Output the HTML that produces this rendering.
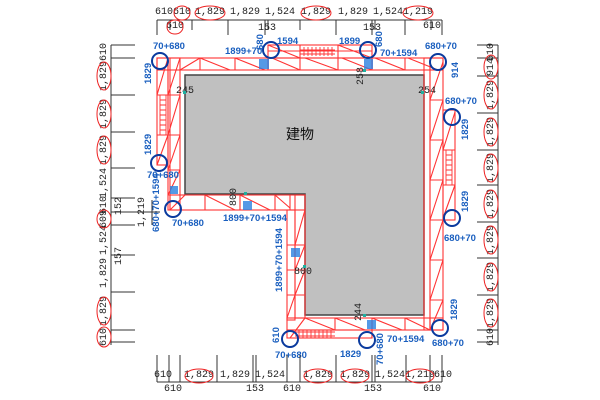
<!DOCTYPE html>
<html><head><meta charset="utf-8"><style>
html,body{margin:0;padding:0;background:#fff;}
svg{display:block;}
.d{font-family:"Liberation Mono","Noto Sans CJK JP",monospace;font-size:10px;fill:#222;}
.b{font-family:"Liberation Sans",sans-serif;font-size:9.5px;font-weight:bold;fill:#1a5fbf;}
.r{fill:none;stroke:#ff3333;stroke-width:1.1;}
.rc{fill:none;stroke:#ff3333;stroke-width:0.9;}
.bc{fill:none;stroke:#0a3a9e;stroke-width:2;}
.k{stroke:#333;stroke-width:1;}
</style></head><body>
<svg width="600" height="400" viewBox="0 0 600 400" xmlns="http://www.w3.org/2000/svg">
<polygon points="185,75 424,75 424,315 305,315 305,194 185,194" fill="#c0c0c0" stroke="#444" stroke-width="1.5"/>
<text x="300" y="139" font-family="'Liberation Sans','Noto Sans CJK JP',sans-serif" font-size="14" text-anchor="middle" fill="#111">建物</text>

<g class="r">
<rect x="157" y="58" width="286" height="12"/>
<line x1="180" y1="70" x2="430" y2="70"/>
<rect x="268" y="45" width="104" height="13"/>
<line x1="268" y1="51" x2="372" y2="51"/>
<path d="M200 58 L230 70 M235 58 L265 70 M268 45 L300 58 M305 58 L338 70 M338 45 L372 58 M342 58 L372 70 M375 58 L405 70 M408 58 L438 70 M180 70 L200 58 M272 58 L300 70"/>
<path d="M200 58 V70 M235 58 V70 M268 58 V70 M300 45 V70 M338 45 V70 M372 58 V70 M405 58 V70"/>
<rect x="157" y="58" width="11" height="107"/>
<rect x="168" y="58" width="12" height="152"/>
<line x1="170" y1="58" x2="170" y2="210"/>
<path d="M157 95 H180 M157 135 H180 M168 170 H180 M168 195 H180"/>
<path d="M157 95 L168 58 M157 165 L168 135 M168 95 L180 58 M168 135 L180 95 M168 170 L180 135 M168 195 L180 170"/>
<rect x="170" y="195" width="135" height="15"/>
<path d="M205 195 V210 M240 195 V210 M275 195 V210 M290 195 V210"/>
<path d="M205 195 L235 210 M240 195 L270 210 M275 195 L290 208 M170 210 L185 195"/>
<rect x="287" y="210" width="8" height="110"/>
<rect x="295" y="195" width="10" height="123"/>
<path d="M287 245 H305 M287 270 H305 M287 295 H305"/>
<path d="M295 245 L305 210 M295 270 L305 245 M295 295 L305 270 M287 318 L295 295"/>
<rect x="287" y="318" width="156" height="12"/>
<rect x="287" y="330" width="85" height="8"/>
<path d="M335 318 V330 M372 318 V338 M405 318 V330 M430 318 V330"/>
<path d="M305 318 L335 330 M335 318 L365 330 M372 318 L402 330 M405 318 L430 330 M290 338 L305 318"/>
<rect x="424" y="58" width="6" height="272"/>
<rect x="430" y="58" width="13" height="272"/>
<rect x="443" y="110" width="12" height="110"/>
<path d="M430 100 H443 M430 140 H443 M430 180 H443 M430 220 H443 M430 260 H443 M430 300 H443 M443 150 H455 M443 185 H455"/>
<path d="M430 100 L443 62 M430 140 L443 100 M430 180 L443 140 M430 220 L443 180 M430 260 L443 220 M430 300 L443 260 M430 330 L443 300 M443 150 L455 112 M443 218 L455 185"/>
</g>
<g class="rc">
<path d="M300 50 H335 M300 54 H335 M304 47 V56 M308 47 V56 M312 47 V56 M316 47 V56 M320 47 V56 M324 47 V56 M328 47 V56 M332 47 V56"/>
<path d="M160 95 V135 M166 95 V135 M160 100 H166 M160 105 H166 M160 110 H166 M160 115 H166 M160 120 H166 M160 125 H166 M160 130 H166"/>
<path d="M446 150 V185 M452 150 V185 M446 155 H452 M446 160 H452 M446 165 H452 M446 170 H452 M446 175 H452 M446 180 H452"/>
<path d="M295 332 H335 M295 336 H335 M299 330 V338 M303 330 V338 M307 330 V338 M311 330 V338 M315 330 V338 M319 330 V338 M323 330 V338 M327 330 V338 M331 330 V338"/>
</g>
<g fill="#2b7fe0">
<rect x="259" y="59" width="10" height="10" opacity="0.8"/>
<rect x="364" y="59" width="9" height="10" opacity="0.8"/>
<rect x="170" y="186" width="8" height="8" opacity="0.8"/>
<rect x="243" y="201" width="9" height="9" opacity="0.8"/>
<rect x="291" y="248" width="9" height="9" opacity="0.8"/>
<rect x="367" y="320" width="9" height="9" opacity="0.8"/>
</g>
<g class="bc">
<circle cx="160" cy="61" r="8"/><circle cx="271" cy="50" r="8"/><circle cx="368" cy="50" r="8"/><circle cx="438" cy="62" r="8"/>
<circle cx="452" cy="117" r="8"/><circle cx="452" cy="218" r="8"/><circle cx="440" cy="328" r="8"/>
<circle cx="159" cy="163" r="8"/><circle cx="173" cy="209" r="8"/>
<circle cx="290" cy="339" r="8"/><circle cx="367" cy="340" r="8"/>
</g>
<g class="b">
<text x="153" y="49">70+680</text>
<text x="277" y="44">1594</text>
<text x="225" y="54">1899+70</text>
<text x="339" y="44">1899</text>
<text x="380" y="56">70+1594</text>
<text x="425" y="49">680+70</text>
<text x="445" y="104">680+70</text>
<text x="444" y="241">680+70</text>
<text x="432" y="346">680+70</text>
<text x="147" y="178">70+680</text>
<text x="172" y="226">70+680</text>
<text x="223" y="221">1899+70+1594</text>
<text x="275" y="358">70+680</text>
<text x="340" y="357">1829</text>
<text x="387" y="342">70+1594</text>
<text transform="translate(151,84) rotate(-90)">1829</text>
<text transform="translate(151,155) rotate(-90)">1829</text>
<text transform="translate(159,232) rotate(-90)">680+70+1594</text>
<text transform="translate(263,50) rotate(-90)">680</text>
<text transform="translate(382,47) rotate(-90)">680</text>
<text transform="translate(458,78) rotate(-90)">914</text>
<text transform="translate(468,140) rotate(-90)">1829</text>
<text transform="translate(468,212) rotate(-90)">1829</text>
<text transform="translate(457,320) rotate(-90)">1829</text>
<text transform="translate(279,343) rotate(-90)">610</text>
<text transform="translate(383,365) rotate(-90)">70+680</text>
<text transform="translate(282,292) rotate(-90)">1899+70+1594</text>
</g>
<g class="d" font-size="9">
<text x="176" y="93">245</text>
<text x="418" y="93">254</text>
<text transform="translate(363,85) rotate(-90)">258</text>
<text transform="translate(236,206) rotate(-90)">800</text>
<text x="294" y="274">800</text>
<text transform="translate(361,321) rotate(-90)">244</text>
</g>
<g class="k">
<line x1="157" y1="20" x2="442" y2="20"/>
<path d="M157 20 V35 M170 20 V30 M192 20 V30 M228 20 V35 M265 20 V35 M268 20 V30 M300 20 V30 M336 20 V35 M372 20 V35 M375 20 V30 M405 20 V35 M431 20 V30 M442 20 V35"/>
<line x1="157" y1="355" x2="157" y2="382"/>
<line x1="157" y1="382" x2="442" y2="382"/>
<path d="M169 355 V382 M180 355 V382 M217 355 V382 M253 355 V382 M256 355 V382 M287 355 V382 M300 355 V382 M336 355 V382 M372 355 V382 M375 355 V382 M406 355 V382 M430 355 V382 M442 355 V382"/>
<line x1="111" y1="45" x2="111" y2="345"/>
<path d="M111 45 H135 M111 58 H135 M111 95 H135 M111 132 H135 M111 168 H135 M111 198 H135 M111 212 H160 M111 225 H135 M111 255 H135 M111 292 H135 M111 330 H135 M111 342 H135 M152 200 V225"/>
<line x1="498" y1="45" x2="498" y2="345"/>
<path d="M477 45 H498 M477 58 H498 M477 76 H498 M477 113 H498 M477 150 H498 M477 185 H498 M477 222 H498 M477 258 H498 M477 295 H498 M477 330 H498 M477 342 H498"/>
</g>
<g class="d" text-anchor="middle">
<text x="164" y="14">610</text><text x="182" y="14">610</text><text x="210" y="14">1,829</text><text x="245" y="14">1,829</text><text x="280" y="14">1,524</text><text x="316" y="14">1,829</text><text x="353" y="14">1,829</text><text x="388" y="14">1,524</text><text x="418" y="14">1,219</text>
<text x="175" y="28">610</text><text x="267" y="30">153</text><text x="372" y="30">153</text><text x="432" y="28">610</text>
<text x="163" y="377">610</text><text x="199" y="377">1,829</text><text x="235" y="377">1,829</text><text x="270" y="377">1,524</text><text x="318" y="377">1,829</text><text x="355" y="377">1,829</text><text x="390" y="377">1,524</text><text x="420" y="377">1,219</text><text x="443" y="377">610</text>
<text x="173" y="391">610</text><text x="255" y="391">153</text><text x="292" y="391">610</text><text x="373" y="391">153</text><text x="432" y="391">610</text>
</g>
<g class="d" text-anchor="middle">
<text transform="translate(106,52) rotate(-90)">610</text>
<text transform="translate(106,76) rotate(-90)">1,829</text>
<text transform="translate(106,114) rotate(-90)">1,829</text>
<text transform="translate(106,150) rotate(-90)">1,829</text>
<text transform="translate(106,183) rotate(-90)">1,524</text>
<text transform="translate(106,205) rotate(-90)">610</text>
<text transform="translate(106,219) rotate(-90)">609</text>
<text transform="translate(121,206) rotate(-90)">152</text>
<text transform="translate(144,212) rotate(-90)">1,219</text>
<text transform="translate(106,240) rotate(-90)">1,524</text>
<text transform="translate(121,256) rotate(-90)">157</text>
<text transform="translate(106,273) rotate(-90)">1,829</text>
<text transform="translate(106,311) rotate(-90)">1,829</text>
<text transform="translate(106,337) rotate(-90)">610</text>
<text transform="translate(493,52) rotate(-90)">610</text>
<text transform="translate(493,67) rotate(-90)">914</text>
<text transform="translate(493,95) rotate(-90)">1,829</text>
<text transform="translate(493,132) rotate(-90)">1,829</text>
<text transform="translate(493,168) rotate(-90)">1,829</text>
<text transform="translate(493,204) rotate(-90)">1,829</text>
<text transform="translate(493,240) rotate(-90)">1,829</text>
<text transform="translate(493,277) rotate(-90)">1,829</text>
<text transform="translate(493,313) rotate(-90)">1,829</text>
<text transform="translate(493,337) rotate(-90)">610</text>
</g>
<g fill="none" stroke="#ee2222" stroke-width="1">
<ellipse cx="182" cy="13" rx="8" ry="7"/><ellipse cx="210" cy="13" rx="15" ry="7"/><ellipse cx="316" cy="13" rx="15" ry="7"/><ellipse cx="418" cy="13" rx="15" ry="7"/><ellipse cx="175" cy="27" rx="8" ry="7"/>
<ellipse cx="199" cy="376" rx="14" ry="7"/><ellipse cx="318" cy="376" rx="14" ry="7"/><ellipse cx="355" cy="376" rx="14" ry="7"/><ellipse cx="420" cy="376" rx="14" ry="7"/>
<ellipse cx="104" cy="76" rx="7" ry="14"/><ellipse cx="104" cy="114" rx="7" ry="14"/><ellipse cx="104" cy="150" rx="7" ry="14"/><ellipse cx="104" cy="219" rx="7" ry="9"/><ellipse cx="104" cy="311" rx="7" ry="14"/><ellipse cx="104" cy="337" rx="7" ry="10"/>
<ellipse cx="491" cy="67" rx="7" ry="12"/><ellipse cx="491" cy="95" rx="7" ry="14"/><ellipse cx="491" cy="132" rx="7" ry="14"/><ellipse cx="491" cy="168" rx="7" ry="14"/><ellipse cx="491" cy="204" rx="7" ry="14"/><ellipse cx="491" cy="240" rx="7" ry="14"/><ellipse cx="491" cy="277" rx="7" ry="14"/><ellipse cx="491" cy="313" rx="7" ry="14"/>
</g>
<g fill="#20b0a0">
<rect x="183" y="91" width="3" height="3"/><rect x="421" y="91" width="3" height="3"/><rect x="363" y="69" width="3" height="3"/><rect x="244" y="192" width="3" height="3"/><rect x="303" y="265" width="3" height="3"/><rect x="363" y="314" width="3" height="3"/>
</g>
</svg>
</body></html>
